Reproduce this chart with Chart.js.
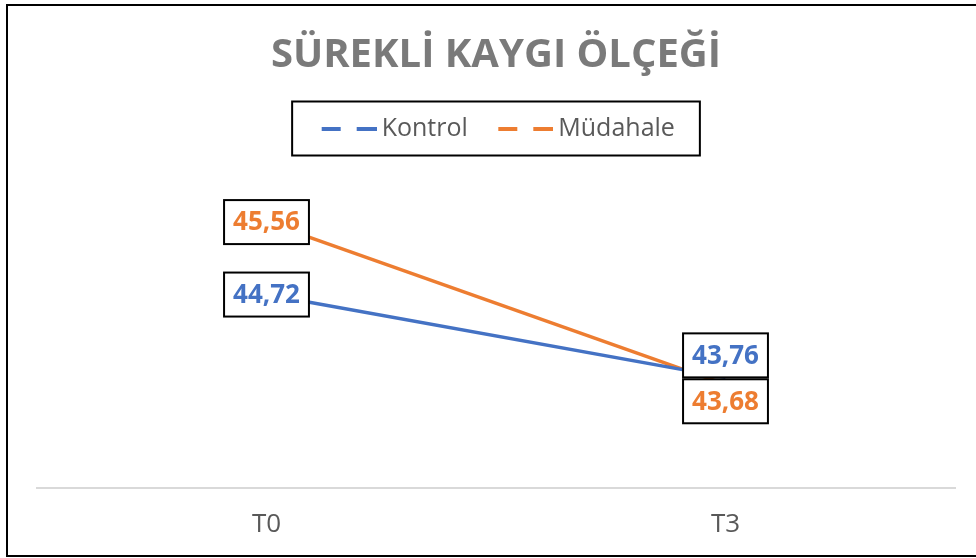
<!DOCTYPE html>
<html>
<head>
<meta charset="utf-8">
<script src="https://cdn.jsdelivr.net/npm/chart.js@4.4.0/dist/chart.umd.min.js"></script>
<style>
    html, body { margin: 0; padding: 0; background: #ffffff; }
    #kutu { width: 976px; height: 558px; }
</style>
</head>
<body>
<div id="kutu"><canvas id="myChart" width="976" height="558"></canvas></div>
<script>
// veriler
var kategoriler = ['T0', 'T3'];
var kontrol = [44.72, 43.76];
var mudahale = [45.56, 43.68];
var seriAdlari = ['Kontrol', 'Müdahale'];
var yMin = 42.48;
var yMax = 46.384;

var mavi = '#4472C4';
var turuncu = '#ED7D31';
var gri = '#595959';

Chart.defaults.font.family = "'Open Sans', sans-serif";

// legend icin kesikli cizgi resmi (solda bos kisim var)
function kesikCizgi(renk) {
    var c = document.createElement('canvas');
    c.width = 67;
    c.height = 4;
    var x = c.getContext('2d');
    x.fillStyle = renk;
    x.fillRect(12, 0, 19, 4);
    x.fillRect(47, 0, 20, 4);
    return c;
}

// sayi formati 45,56
function yaz(v) {
    return v.toFixed(2).replace('.', ',');
}

// grafik cercevesi
var cercevePlugin = {
    id: 'cerceve',
    afterDraw: function (chart) {
        var ctx = chart.ctx;
        ctx.save();
        ctx.strokeStyle = '#000000';
        ctx.lineWidth = 2;
        ctx.strokeRect(7, 5, 990, 551);
        ctx.restore();
    }
};

// legend etrafinda kutu
var legendKutuPlugin = {
    id: 'legendKutu',
    afterDraw: function (chart) {
        var hb = chart.legend.legendHitBoxes;
        if (!hb || !hb.length) return;
        var ctx = chart.ctx;
        var son = hb[hb.length - 1];
        var sol = hb[0].left - 25;
        var sag = son.left + son.width + 25;
        var orta = hb[0].top + hb[0].height / 2;
        ctx.save();
        ctx.strokeStyle = '#000000';
        ctx.lineWidth = 2;
        ctx.strokeRect(sol, orta - 27, sag - sol, 54);
        ctx.restore();
    }
};

// veri etiketleri (kutulu)
var etiketPlugin = {
    id: 'etiketler',
    afterDatasetsDraw: function (chart) {
        var ctx = chart.ctx;
        ctx.save();
        ctx.font = 'bold 26px "Open Sans", sans-serif';
        ctx.textAlign = 'center';
        ctx.textBaseline = 'middle';
        chart.data.datasets.forEach(function (ds, i) {
            var meta = chart.getDatasetMeta(i);
            meta.data.forEach(function (p, j) {
                var metin = yaz(ds.data[j]);
                var w = ctx.measureText(metin).width + 18;
                var h = 44;
                var cy = p.y;
                if (ds.etiketKonum[j] === 'ust') cy = p.y - h / 2;
                if (ds.etiketKonum[j] === 'alt') cy = p.y - 5 + h / 2;
                ctx.fillStyle = '#ffffff';
                ctx.fillRect(p.x - w / 2, cy - h / 2, w, h);
                ctx.strokeStyle = '#000000';
                ctx.lineWidth = 2;
                ctx.strokeRect(p.x - w / 2, cy - h / 2, w, h);
                ctx.fillStyle = ds.borderColor;
                ctx.fillText(metin, p.x, cy + 1);
            });
        });
        ctx.restore();
    }
};

var tmp = document.createElement('canvas').getContext('2d');
var baslikRenk = tmp.createLinearGradient(0, 36, 0, 74);
baslikRenk.addColorStop(0, '#7a7a7a');
baslikRenk.addColorStop(1, '#383838');

var ctx = document.getElementById('myChart');
var grafik = new Chart(ctx, {
    type: 'line',
    data: {
        labels: kategoriler,
        datasets: [
            {
                label: seriAdlari[0],
                data: kontrol,
                borderColor: mavi,
                backgroundColor: mavi,
                borderWidth: 3.5,
                pointRadius: 0,
                tension: 0,
                pointStyle: kesikCizgi(mavi),
                etiketKonum: ['orta', 'ust']
            },
            {
                label: seriAdlari[1],
                data: mudahale,
                borderColor: turuncu,
                backgroundColor: turuncu,
                borderWidth: 3.5,
                pointRadius: 0,
                tension: 0,
                pointStyle: kesikCizgi(turuncu),
                etiketKonum: ['orta', 'alt']
            }
        ]
    },
    options: {
        responsive: false,
        animation: false,
        layout: {
            padding: { left: 37, right: 21, top: 0, bottom: 5 }
        },
        plugins: {
            title: {
                display: true,
                text: 'SÜREKLİ KAYGI ÖLÇEĞİ',
                color: baslikRenk,
                font: { size: 40, weight: 'bold' },
                padding: { top: 32, bottom: 10 }
            },
            legend: {
                display: true,
                position: 'top',
                labels: {
                    usePointStyle: true,
                    pointStyleWidth: 52,
                    color: gri,
                    font: { size: 25 },
                    padding: 26
                }
            },
            tooltip: { enabled: false }
        },
        scales: {
            x: {
                offset: true,
                grid: { display: false },
                border: { display: true, color: '#d9d9d9', width: 2 },
                ticks: { color: gri, font: { size: 26 }, padding: 13 }
            },
            y: {
                display: false,
                min: yMin,
                max: yMax
            }
        }
    },
    plugins: [etiketPlugin, legendKutuPlugin, cercevePlugin]
});
</script>
</body>
</html>
